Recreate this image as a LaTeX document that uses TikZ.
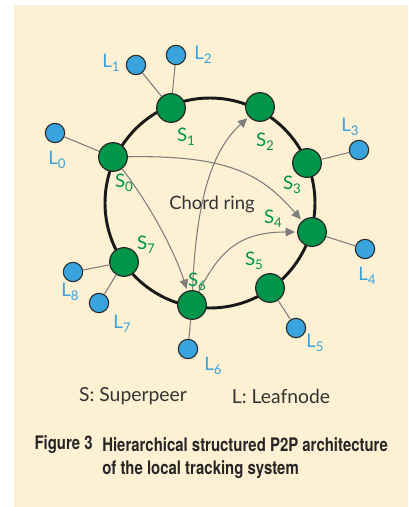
\documentclass[tikz,border=0pt]{standalone}
\usepackage{fontspec}
\setmainfont{Lato}
\newfontfamily\capfont[FakeStretch=0.8]{TeX Gyre Heros}
\usetikzlibrary{arrows.meta}

\definecolor{paper}{HTML}{FEF0D3}
\definecolor{spgreen}{HTML}{00964A}
\definecolor{lfblue}{HTML}{38A3DD}
\definecolor{chordgrey}{HTML}{7E7E7E}
\definecolor{inkgrey}{HTML}{333333}

% index under S and L
\newcommand{\idx}[1]{\raisebox{-0.45ex}{\fontsize{10}{11}\selectfont #1}}

\tikzset{
  super/.style={circle, draw=black!85, line width=0.9pt, fill=spgreen,
    minimum size=21.5pt, inner sep=0pt},
  leaf/.style={circle, draw=black!85, line width=0.8pt, fill=lfblue,
    minimum size=14.5pt, inner sep=0pt},
  slab/.style={text=spgreen, inner sep=0pt, font=\fontsize{14}{16}\selectfont},
  llab/.style={text=lfblue, inner sep=0pt, font=\fontsize{14}{16}\selectfont},
  link/.style={draw=chordgrey, line width=0.8pt},
  chord/.style={link, shorten >=1.5pt, -{Triangle[length=7pt,width=6.5pt]}},
  capline/.style={anchor=west, inner sep=0pt, text=black!85,
    font=\capfont\bfseries\fontsize{14}{16}\selectfont},
}

\begin{document}
\begin{tikzpicture}[x=0.75pt, y=-0.75pt]
  \useasboundingbox (0,0) rectangle (408,507);
  \fill[paper] (14,5) rectangle (408,507);

  % the ring
  \coordinate (ring) at (210,203);
  \draw[line width=2.2pt, black!90] (ring) circle (105);

  % superpeers on the ring
  \node[super] (S0) at (113,157) {};
  \node[super] (S1) at (171,108) {};
  \node[super] (S2) at (260,107) {};
  \node[super] (S3) at (307,163) {};
  \node[super] (S4) at (312,232) {};
  \node[super] (S5) at (270,288) {};
  \node[super] (S6) at (192,305) {};
  \node[super] (S7) at (124,262) {};

  % leafnodes
  \node[leaf] (L0) at (55,133) {};
  \node[leaf] (L1) at (136,65) {};
  \node[leaf] (L2) at (176,55) {};
  \node[leaf] (L3) at (359,150) {};
  \node[leaf] (L4) at (365,249) {};
  \node[leaf] (L5) at (296,328) {};
  \node[leaf] (L6) at (188,349) {};
  \node[leaf] (L7) at (99,303) {};
  \node[leaf] (L8) at (73,272) {};

  \draw[link] (L0) -- (S0);
  \draw[link] (L1) -- (S1);
  \draw[link] (L2) -- (S1);
  \draw[link] (L3) -- (S3);
  \draw[link] (L4) -- (S4);
  \draw[link] (L5) -- (S5);
  \draw[link] (L6) -- (S6);
  \draw[link] (L7) -- (S7);
  \draw[link] (L8) -- (S7);

  % chords
  \draw[chord] (S0) .. controls (230,155) and (262,175) .. (S4);
  \draw[chord] (S0) .. controls (150,205) and (174,250) .. (S6);
  \draw[chord] (S6) .. controls (196,200) and (212,150) .. (S2);
  \draw[chord] (S6) .. controls (220,250) and (240,232) .. (S4);

  % labels
  \node[slab] (s0) at (124,183) {S\idx{0}};
  \node[slab] (s1) at (186,137) {S\idx{1}};
  \node[slab] (s2) at (265,142) {S\idx{2}};
  \node[slab] (s3) at (292,185) {S\idx{3}};
  \node[slab] (s4) at (273,219) {S\idx{4}};
  \node[slab] (s5) at (254,261) {S\idx{5}};
  \node[slab] (s6) at (197,282) {S\idx{6}};
  \node[slab] (s7) at (146,245) {S\idx{7}};

  \node[llab] (l0) at (57,160) {L\idx{0}};
  \node[llab] (l1) at (111,63) {L\idx{1}};
  \node[llab] (l2) at (203,55) {L\idx{2}};
  \node[llab] (l3) at (350,127) {L\idx{3}};
  \node[llab] (l4) at (367,276) {L\idx{4}};
  \node[llab] (l5) at (315,343) {L\idx{5}};
  \node[llab] (l6) at (213,366) {L\idx{6}};
  \node[llab] (l7) at (122,324) {L\idx{7}};
  \node[llab] (l8) at (70,292) {L\idx{8}};

  \node[inkgrey, font=\fontsize{13.8}{16}\selectfont] (chordring) at (212,204) {Chord ring};

  % legend and caption
  \node[inkgrey, font=\fontsize{14.5}{16}\selectfont] (legS) at (133,396) {S: Superpeer};
  \node[inkgrey, font=\fontsize{14.5}{16}\selectfont] (legL) at (281,396) {L: Leafnode};

  \node[capline, anchor=east] (fig) at (93,445) {Figure 3};
  \node[capline] (cap1) at (102,445) {Hierarchical structured P2P architecture};
  \node[capline] (cap2) at (102,470) {of the local tracking system};
\end{tikzpicture}
\end{document}
